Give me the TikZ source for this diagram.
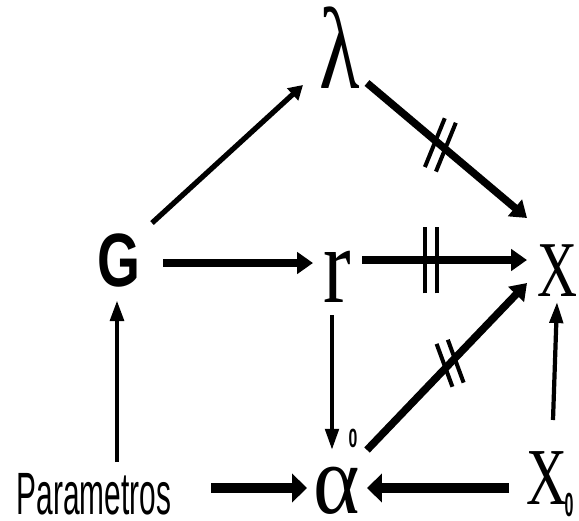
\documentclass[tikz,border=0pt]{standalone}
\usepackage{fontspec}
\setmainfont{Liberation Serif}
\setsansfont{Liberation Sans}
\usetikzlibrary{arrows.meta, decorations.markings}

\newcommand{\squeeze}[2]{\scalebox{#1}[1]{#2}}

\begin{document}
\begin{tikzpicture}[x=0.02cm, y=-0.02cm,
    term/.style={inner sep=0pt, font=\fontsize{#1}{#1}\selectfont},
    zero/.style={inner sep=0pt, font=\sffamily\bfseries\fontsize{#1}{#1}\selectfont},
    slimarrow/.style={line width=2.4pt, -{Triangle[length=12pt, width=7.5pt]}},
    midarrow/.style={line width=3pt, -{Triangle[length=8pt, width=9pt]}},
    boldarrow/.style={line width=4.3pt, -{Triangle[length=9pt, width=12pt]}},
    heavyarrow/.style={line width=6.2pt, -{Triangle[length=8.5pt, width=16pt]}},
    crossed/.style n args={3}{postaction={decorate}, decoration={markings,
        mark=at position #1 with {\draw[-, line width=2.3pt, rotate=#2]
            (-3.4pt,-#3) -- (-3.4pt,#3) (3.4pt,-#3) -- (3.4pt,#3);}}}]
    \useasboundingbox (0,0) rectangle (579,521);

    \node[term=66] (lambda) at (340,48) {\squeeze{0.72}{λ}};
    \node[term=43] (G) at (119,260) {\sffamily\bfseries\squeeze{0.73}{G}};
    \node[term=62] (r) at (337,277) {\squeeze{0.76}{r}};
    \node[term=45] (X) at (557,271) {\squeeze{0.7}{X}};
    \node[term=56] (alpha) at (337,491) {\squeeze{0.9}{α}};
    \node[zero=15] (alphazero) at (353,438) {\squeeze{0.6}{0}};
    \node[term=46] (Xzero) at (547,478) {\squeeze{0.7}{X}};
    \node[zero=19] (Xzerosub) at (569,505) {\squeeze{0.48}{0}};
    \node[term=34] (param) at (94,494) {\sffamily\squeeze{0.5}{Parametros}};

    \draw[midarrow] ([shift={(33,-37)}]G.center) -- ([shift={(-37,37)}]lambda.center);
    \draw[boldarrow, crossed={0.46}{18}{15pt}]
        ([shift={(27,35)}]lambda.center) -- ([shift={(-30,-53)}]X.center);
    \draw[boldarrow] ([shift={(44,3)}]G.center) -- ([shift={(-24,-14)}]r.center);
    \draw[boldarrow, crossed={0.42}{0}{19pt}]
        ([shift={(25,-17)}]r.center) -- ([shift={(-30,-11)}]X.center);
    \draw[slimarrow] ([shift={(-5,38)}]r.center) -- ([shift={(-5,-41)}]alpha.center);
    \draw[boldarrow, crossed={0.52}{-26}{13pt}]
        ([shift={(30,-41)}]alpha.center) -- ([shift={(-30,12)}]X.center);
    \draw[slimarrow] ([shift={(6,-58)}]Xzero.center) -- ([shift={(0,31)}]X.center);
    \draw[slimarrow, line width=2.8pt] ([shift={(23,-32)}]param.center) -- ([shift={(-2,40)}]G.center);
    \draw[heavyarrow] ([shift={(117,-6)}]param.center) -- ([shift={(-30,-3)}]alpha.center);
    \draw[heavyarrow] ([shift={(-38,10)}]Xzero.center) -- ([shift={(30,-3)}]alpha.center);
\end{tikzpicture}
\end{document}
